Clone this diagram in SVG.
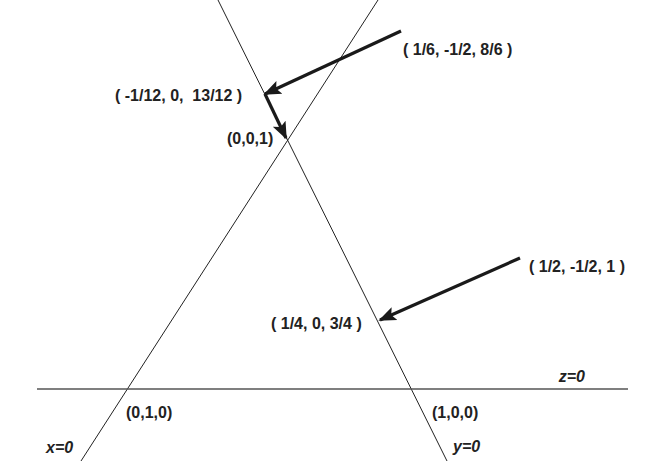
<svg xmlns="http://www.w3.org/2000/svg" width="654" height="463" viewBox="0 0 654 463">
<style>
.t{font-family:"Liberation Sans",Arial,sans-serif;font-weight:bold;font-size:16px;fill:#222}
.i{font-style:italic}
.ln{stroke:#222;stroke-width:1;fill:none}
.ar{stroke:#1a1a1a;stroke-width:3.2;fill:none}
</style>
<defs>
<marker id="ah" viewBox="0 0 10 10" refX="9" refY="5" markerWidth="5.5" markerHeight="5.5" orient="auto" markerUnits="strokeWidth">
<path d="M0,1 L10,5 L0,9 L2,5 Z" fill="#1a1a1a"/>
</marker>
</defs>
<g id="lines">
<line id="line-y0" class="ln" x1="218" y1="0" x2="447" y2="461"/>
<line id="line-x0" class="ln" x1="378" y1="0" x2="81" y2="461"/>
<line id="line-z0" x1="37" y1="389" x2="628" y2="389" stroke="#555" stroke-width="1.6"/>
</g>
<g id="connectors">
<polyline class="ar" points="401,31 265,94" marker-end="url(#ah)"/>
<polyline class="ar" points="265,94 286,138" marker-end="url(#ah)"/>
<polyline class="ar" points="520,258 380,320" marker-end="url(#ah)"/>
</g>
<g id="n1"><text class="t" x="403" y="55">( 1/6, -1/2, 8/6 )</text></g>
<g id="n2"><text class="t" x="115" y="101" xml:space="preserve">( -1/12, 0,  13/12 )</text></g>
<g id="n3"><text class="t" x="227" y="144">(0,0,1)</text></g>
<g id="n4"><text class="t" x="529" y="272">( 1/2, -1/2, 1 )</text></g>
<g id="n5"><text class="t" x="271" y="329">( 1/4, 0, 3/4 )</text></g>
<g id="n6"><text class="t" x="126" y="418">(0,1,0)</text></g>
<g id="n7"><text class="t" x="432" y="418">(1,0,0)</text></g>
<g id="l-x0"><text class="t i" x="46" y="453">x=0</text></g>
<g id="l-y0"><text class="t i" x="453" y="452">y=0</text></g>
<g id="l-z0"><text class="t i" x="585" y="382" text-anchor="end">z=0</text></g>
</svg>
